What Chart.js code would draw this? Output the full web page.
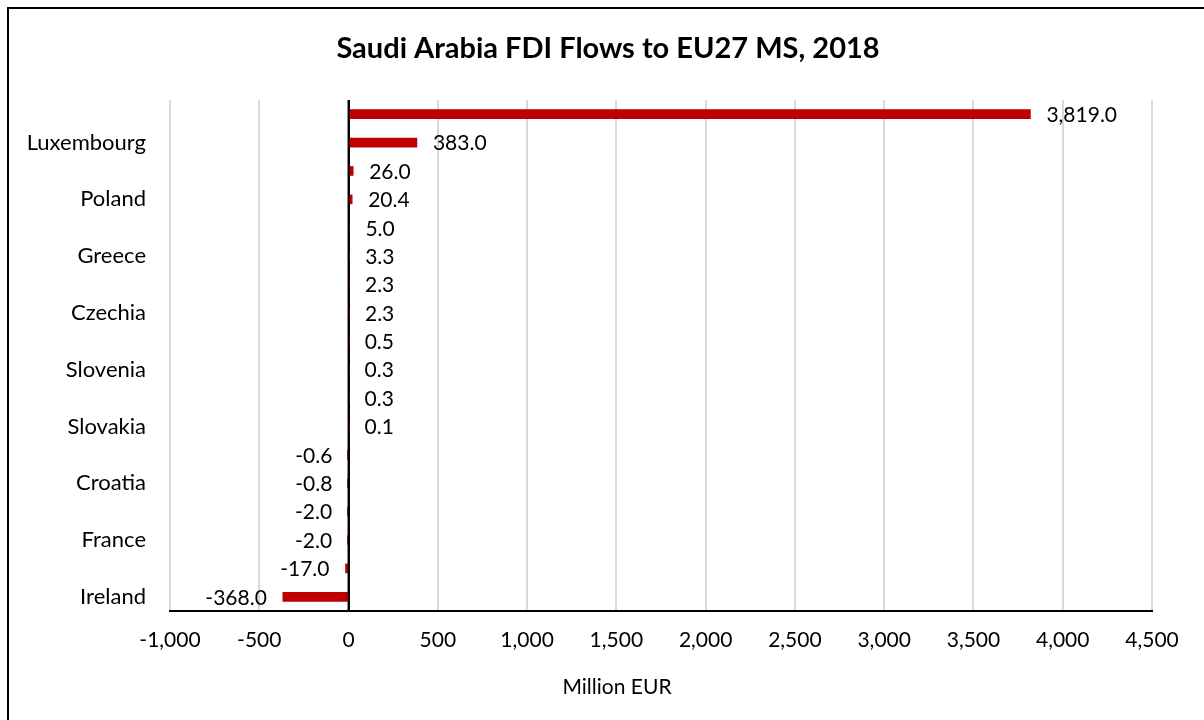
<!DOCTYPE html>
<html>
<head>
<meta charset="utf-8">
<title>Saudi Arabia FDI Flows to EU27 MS, 2018</title>
<script src="https://cdn.jsdelivr.net/npm/chart.js@4.4.1/dist/chart.umd.min.js"></script>
<style>
    html, body { margin: 0; padding: 0; background: #fff; overflow: hidden; }
    #frame {
        position: absolute; left: 7px; top: 7px; width: 1400px; height: 900px;
        border-left: 2px solid #000; border-top: 2px solid #000;
    }
    #fdiChart { position: absolute; left: 9px; top: 0; }
</style>
</head>
<body>
<div id="frame"></div>
<canvas id="fdiChart" width="1198" height="720"></canvas>
<script>
    // only every other country name is printed on the reference axis
    var categories = ['', 'Luxembourg', '', 'Poland', '', 'Greece', '', 'Czechia', '', 'Slovenia',
        '', 'Slovakia', '', 'Croatia', '', 'France', '', 'Ireland'];
    var flows = [3819.0, 383.0, 26.0, 20.4, 5.0, 3.3, 2.3, 2.3, 0.5, 0.3,
        0.3, 0.1, -0.6, -0.8, -2.0, -2.0, -17.0, -368.0];
    var xMin = -1000;
    var xMax = 4500;
    var xStep = 500;
    var chartTitle = 'Saudi Arabia FDI Flows to EU27 MS, 2018';
    var axisTitle = 'Million EUR';

    var textColor = '#000';
    var fontFamily = 'Lato, "Open Sans", sans-serif';

    Chart.defaults.font.family = fontFamily;
    Chart.defaults.color = textColor;

    function formatNumber(v, digits) {
        return v.toLocaleString('en-US', {minimumFractionDigits: digits, maximumFractionDigits: digits});
    }

    // zero line on top of the bars, then value labels at the end of each bar
    var barLabels = {
        id: 'barLabels',
        afterDatasetsDraw: function (chart) {
            var ctx = chart.ctx;
            var area = chart.chartArea;
            var zeroX = chart.scales.x.getPixelForValue(0);
            var meta = chart.getDatasetMeta(0);
            ctx.save();
            ctx.strokeStyle = '#000';
            ctx.lineWidth = 2;
            ctx.beginPath();
            ctx.moveTo(zeroX, area.top);
            ctx.lineTo(zeroX, area.bottom);
            ctx.stroke();

            ctx.font = '21px ' + fontFamily;
            ctx.fillStyle = textColor;
            ctx.textBaseline = 'middle';
            meta.data.forEach(function (bar, i) {
                var v = chart.data.datasets[0].data[i];
                if (v >= 0) {
                    ctx.textAlign = 'left';
                    ctx.fillText(formatNumber(v, 1), bar.x + 16, bar.y + 1);
                } else {
                    ctx.textAlign = 'right';
                    ctx.fillText(formatNumber(v, 1), bar.x - 16, bar.y + 1);
                }
            });
            ctx.restore();
        }
    };

    // titles are centred on the whole frame, not on the plot
    var titles = {
        id: 'titles',
        afterDraw: function (chart) {
            var ctx = chart.ctx;
            ctx.save();
            ctx.fillStyle = textColor;
            ctx.textAlign = 'center';
            ctx.textBaseline = 'middle';
            ctx.font = 'bold 29px ' + fontFamily;
            ctx.fillText(chartTitle, 599, 49);
            ctx.font = '21px ' + fontFamily;
            ctx.fillText(axisTitle, 608, 687);
            ctx.restore();
        }
    };

    new Chart(document.getElementById('fdiChart'), {
        type: 'bar',
        data: {
            labels: categories,
            datasets: [{
                data: flows,
                backgroundColor: '#c00000',
                barThickness: 9
            }]
        },
        options: {
            indexAxis: 'y',
            responsive: false,
            animation: false,
            layout: {
                padding: {left: 0, right: 55, top: 100, bottom: 0}
            },
            plugins: {
                legend: {display: false},
                tooltip: {enabled: false},
                title: {display: false}
            },
            scales: {
                x: {
                    min: xMin,
                    max: xMax,
                    afterFit: function (scale) {
                        scale.height = 109;
                    },
                    ticks: {
                        stepSize: xStep,
                        padding: 17,
                        font: {size: 21},
                        color: textColor,
                        maxRotation: 0,
                        callback: function (v) {
                            return formatNumber(v, 0);
                        }
                    },
                    grid: {
                        drawTicks: false,
                        lineWidth: 2,
                        color: function (c) {
                            return c.tick && c.tick.value === 0 ? '#000' : '#d9d9d9';
                        }
                    },
                    border: {display: true, color: '#000', width: 2}
                },
                y: {
                    afterFit: function (scale) {
                        scale.width = 161;
                    },
                    ticks: {
                        autoSkip: false,
                        padding: 24,
                        font: {size: 22},
                        color: textColor
                    },
                    grid: {display: false, drawTicks: false},
                    border: {display: false}
                }
            }
        },
        plugins: [barLabels, titles]
    });
</script>
</body>
</html>
